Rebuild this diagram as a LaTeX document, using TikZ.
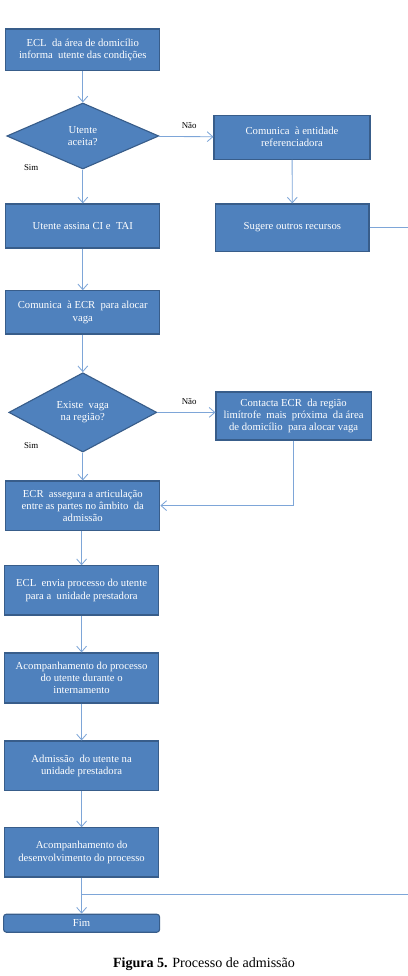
\documentclass[tikz,border=0pt]{standalone}
\usepackage{fontspec}
\setmainfont{Liberation Serif}
\usetikzlibrary{shapes.geometric,arrows.meta}
\definecolor{azul}{HTML}{4F81BD}
\definecolor{azulesc}{HTML}{385D8A}
\definecolor{linha}{HTML}{7EA6D8}
\begin{document}
\begin{tikzpicture}
\tikzset{caixa/.style={draw=azulesc, fill=azul, line width=0.8pt, text=white, align=center,
    font=\fontsize{7.6}{8.6}\selectfont, minimum width=3.85cm, minimum height=1.1cm, inner sep=1pt},
  losango/.style={caixa, diamond, minimum width=3.8cm, minimum height=1.7cm},
  seta/.style={draw=linha, line width=0.6pt, -{Straight Barb[length=4pt,width=7pt]}},
  rotulo/.style={font=\fontsize{6.3}{7}\selectfont}}
\useasboundingbox (0,0) rectangle (10.2,-24.4);
\node[caixa, minimum height=1.03cm] (ecl) at (2.07,-1.24) {ECL \ da área de domicílio\\informa \ utente das condições};
\node[losango, minimum width=3.8cm, minimum height=1.65cm] (aceita) at (2.07,-3.4) {Utente\\aceita?};
\node[caixa, minimum width=3.9cm] (entidade) at (7.3,-3.43) {Comunica \ à entidade\\referenciadora};
\node[caixa] (assina) at (2.07,-5.65) {Utente assina CI e \ TAI};
\node[caixa, minimum width=3.83cm, minimum height=1.18cm] (sugere) at (7.31,-5.69) {Sugere outros recursos};
\node[caixa, minimum height=1.08cm] (comunica) at (2.07,-7.81) {Comunica \ à ECR \ para alocar\\vaga};
\node[losango, minimum width=3.7cm, minimum height=1.73cm] (vaga) at (2.07,-10.31) {Existe \ vaga\\na região?};
\node[caixa, minimum width=3.88cm, minimum height=1.2cm] (contacta) at (7.34,-10.4) {Contacta ECR \ da região\\limítrofe \ mais \ próxima \ da área\\de domicílio \ para alocar vaga};
\node[caixa, minimum height=1.23cm] (assegura) at (2.07,-12.64) {ECR \ assegura a articulação\\entre as partes no âmbito \ da\\admissão};
\node[caixa, minimum height=1.23cm] (envia) at (2.04,-14.76) {ECL \ envia processo do utente\\para a \ unidade prestadora};
\node[caixa, minimum height=1.25cm] (acomp) at (2.04,-16.95) {Acompanhamento do processo\\do utente durante o\\internamento};
\node[caixa, minimum height=1.23cm] (admissao) at (2.04,-19.14) {Admissão \ do utente na\\unidade prestadora};
\node[caixa, minimum height=1.23cm] (desenv) at (2.04,-21.31) {Acompanhamento do\\desenvolvimento do processo};
\node[caixa, rounded corners=2pt, minimum width=3.9cm, minimum height=0.45cm] (fim) at (2.04,-23.08) {Fim};
\node[rotulo] (nao1) at (4.73,-3.13) {Não};
\node[rotulo] (sim1) at (0.78,-4.2) {Sim};
\node[rotulo] (nao2) at (4.73,-10.03) {Não};
\node[rotulo] (sim2) at (0.78,-11.13) {Sim};
\coordinate (borda1) at (10.2,-5.69);
\coordinate (borda2) at (10.2,-22.35);
\coordinate (junta) at (2.04,-22.35);
\draw[seta] (ecl) -- (aceita);
\draw[seta] (aceita) -- (entidade);
\draw[seta] (aceita) -- (assina);
\draw[seta] (entidade) -- (sugere);
\draw[draw=linha, line width=0.6pt] (sugere) -- (borda1);
\draw[seta] (assina) -- (comunica);
\draw[seta] (comunica) -- (vaga);
\draw[seta] (vaga.east) -- (vaga.east -| contacta.west);
\draw[seta] (vaga) -- (assegura);
\draw[seta] (contacta) |- (assegura);
\draw[seta] (assegura.south -| envia) -- (envia);
\draw[seta] (envia) -- (acomp);
\draw[seta] (acomp) -- (admissao);
\draw[seta] (admissao) -- (desenv);
\draw[seta] (desenv) -- (fim);
\draw[draw=linha, line width=0.6pt] (borda2) -- (junta);
\node[font=\fontsize{10}{12}\selectfont] (legenda) at (5.1,-24.1) {\textbf{Figura 5.} Processo de admissão};
\end{tikzpicture}
\end{document}
